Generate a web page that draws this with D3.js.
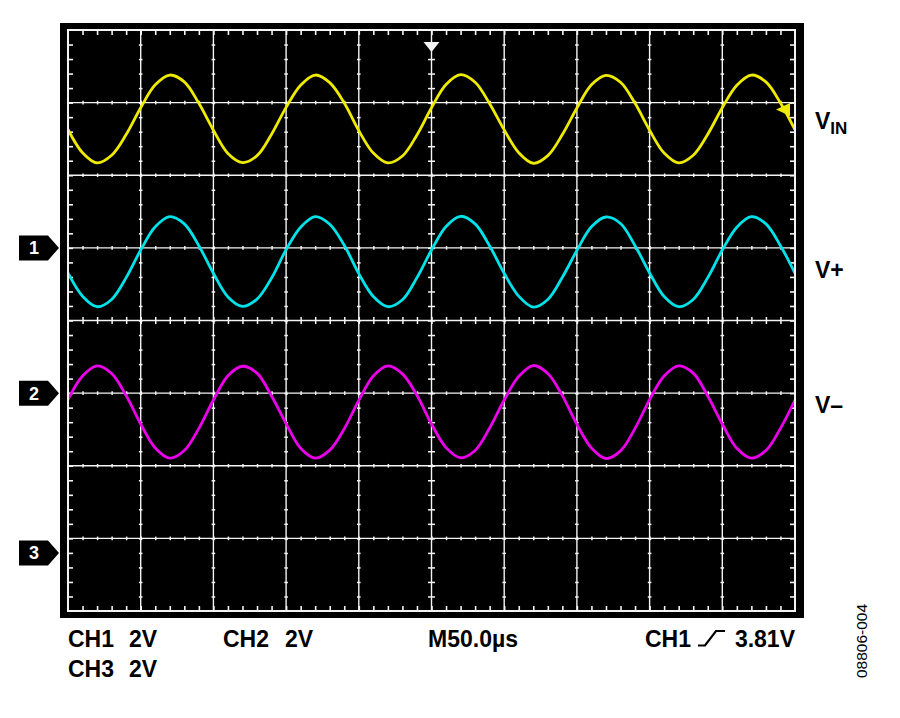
<!DOCTYPE html>
<html>
<head>
<meta charset="utf-8">
<script src="https://cdn.jsdelivr.net/npm/d3@7"></script>
<style>
  body { margin: 0; background: #fff; }
  text { font-family: "Liberation Sans", Arial, sans-serif; }
</style>
</head>
<body>
<div id="scope"></div>
<script>
// sample times, µs (M50.0µs per division, 10 divisions)
const timeUs = [0, 10, 20, 30, 40, 50, 60, 70, 80, 90,
                100, 110, 120, 130, 140, 150, 160, 170, 180, 190,
                200, 210, 220, 230, 240, 250, 260, 270, 280, 290,
                300, 310, 320, 330, 340, 350, 360, 370, 380, 390,
                400, 410, 420, 430, 440, 450, 460, 470, 480, 490, 500];

// CH1 - VIN (volts)
const vin = [3.26, 2.62, 2.34, 2.55, 3.12, 3.86, 4.49, 4.76, 4.57, 3.98,
             3.24, 2.60, 2.35, 2.54, 3.13, 3.87, 4.48, 4.76, 4.55, 3.99,
             3.23, 2.61, 2.34, 2.53, 3.11, 3.86, 4.50, 4.77, 4.56, 3.97,
             3.25, 2.62, 2.33, 2.54, 3.12, 3.85, 4.49, 4.75, 4.56, 3.98,
             3.24, 2.61, 2.34, 2.55, 3.13, 3.86, 4.48, 4.76, 4.57, 3.99, 3.25];

// CH2 - V+ (volts)
const vPlus = [3.31, 2.67, 2.38, 2.58, 3.18, 3.94, 4.58, 4.86, 4.66, 4.06,
               3.30, 2.65, 2.39, 2.59, 3.17, 3.95, 4.57, 4.86, 4.65, 4.07,
               3.29, 2.66, 2.38, 2.57, 3.18, 3.94, 4.59, 4.87, 4.66, 4.05,
               3.30, 2.67, 2.37, 2.58, 3.19, 3.93, 4.58, 4.85, 4.67, 4.06,
               3.31, 2.66, 2.38, 2.58, 3.18, 3.94, 4.57, 4.86, 4.66, 4.06, 3.30];

// CH3 - V- (volts)
const vMinus = [4.22, 4.87, 5.15, 4.94, 4.33, 3.55, 2.89, 2.61, 2.82, 3.43,
                4.21, 4.88, 5.14, 4.95, 4.32, 3.56, 2.88, 2.61, 2.83, 3.42,
                4.20, 4.87, 5.15, 4.93, 4.34, 3.55, 2.90, 2.62, 2.82, 3.44,
                4.21, 4.86, 5.16, 4.94, 4.33, 3.54, 2.89, 2.60, 2.81, 3.43,
                4.22, 4.87, 5.15, 4.95, 4.32, 3.55, 2.88, 2.61, 2.82, 3.43, 4.21];

const channelNames = ["1", "2", "3"];
const channelOffsetDiv = [1.0, -1.0, -3.2];   // ground marker position, divisions from centre
const voltsPerDiv = 2;
const triggerLevel = 3.81;
const traceNames = ["VIN", "V+", "V\u2013"];
const traceColors = ["#eeea00", "#00e2ea", "#ec00ec"];

const footerRow1 = ["CH1", "2V", "CH2", "2V", "M50.0\u00b5s"];
const footerRow2 = ["CH3", "2V"];
const triggerText = ["CH1", "3.81V"];
const figureId = "08806-004";

// ---- layout
const W = 900, H = 718;
const plot = { left: 68, right: 795, top: 30, bottom: 611 };

const svg = d3.select("#scope")
  .append("svg")
  .attr("width", W)
  .attr("height", H)
  .style("display", "block");

svg.append("rect").attr("width", W).attr("height", H).attr("fill", "#fff");

const x = d3.scaleLinear().domain([0, 500]).range([plot.left, plot.right]);
const yDiv = d3.scaleLinear().domain([-4, 4]).range([plot.bottom, plot.top]);
const yCh = (ch, v) => yDiv(channelOffsetDiv[ch] + v / voltsPerDiv);

// black bezel
svg.append("rect")
  .attr("x", plot.left - 8).attr("y", plot.top - 7)
  .attr("width", plot.right - plot.left + 17)
  .attr("height", plot.bottom - plot.top + 14)
  .attr("fill", "#000");

const g = svg.append("g");

// graticule lines
const majorT = [50, 100, 150, 200, 250, 300, 350, 400, 450];
const majorDiv = [-3, -2, -1, 0, 1, 2, 3];
const minorT = d3.range(10, 500, 10);
const minorDiv = d3.range(-3.8, 4, 0.2).map(d => +d.toFixed(1));

g.selectAll(".vgrid")
  .data(majorT)
  .enter().append("line")
  .attr("x1", d => x(d)).attr("x2", d => x(d))
  .attr("y1", plot.top).attr("y2", plot.bottom)
  .attr("stroke", "#f4f4f4").attr("stroke-width", 1.4);

g.selectAll(".hgrid")
  .data(majorDiv)
  .enter().append("line")
  .attr("x1", plot.left).attr("x2", plot.right)
  .attr("y1", d => yDiv(d)).attr("y2", d => yDiv(d))
  .attr("stroke", "#f4f4f4").attr("stroke-width", 1.4);

const styleTicks = (sel, w) => {
  sel.select(".domain").remove();
  sel.selectAll(".tick line").attr("stroke", "#f4f4f4").attr("stroke-width", w);
};

// small dots along every gridline
majorT.forEach(t => {
  const size = t === 250 ? 3.5 : 1.8;
  g.append("g").attr("transform", `translate(${x(t)},0)`)
    .call(d3.axisRight(yDiv).tickValues(minorDiv).tickSize(size).tickFormat(""))
    .call(s => styleTicks(s, 1.5));
  g.append("g").attr("transform", `translate(${x(t)},0)`)
    .call(d3.axisLeft(yDiv).tickValues(minorDiv).tickSize(size).tickFormat(""))
    .call(s => styleTicks(s, 1.5));
});
majorDiv.forEach(d => {
  const size = d === 0 ? 3.5 : 1.8;
  g.append("g").attr("transform", `translate(0,${yDiv(d)})`)
    .call(d3.axisBottom(x).tickValues(minorT).tickSize(size).tickFormat(""))
    .call(s => styleTicks(s, 1.5));
  g.append("g").attr("transform", `translate(0,${yDiv(d)})`)
    .call(d3.axisTop(x).tickValues(minorT).tickSize(size).tickFormat(""))
    .call(s => styleTicks(s, 1.5));
});

// border ticks pointing inward
g.append("g").attr("transform", `translate(0,${plot.top})`)
  .call(d3.axisBottom(x).tickValues(minorT).tickSize(5).tickFormat(""))
  .call(s => styleTicks(s, 1.6));
g.append("g").attr("transform", `translate(0,${plot.bottom})`)
  .call(d3.axisTop(x).tickValues(minorT).tickSize(5).tickFormat(""))
  .call(s => styleTicks(s, 1.6));
g.append("g").attr("transform", `translate(${plot.left},0)`)
  .call(d3.axisRight(yDiv).tickValues(minorDiv).tickSize(5).tickFormat(""))
  .call(s => styleTicks(s, 1.6));
g.append("g").attr("transform", `translate(${plot.right},0)`)
  .call(d3.axisLeft(yDiv).tickValues(minorDiv).tickSize(5).tickFormat(""))
  .call(s => styleTicks(s, 1.6));

// white border
g.append("rect")
  .attr("x", plot.left).attr("y", plot.top)
  .attr("width", plot.right - plot.left)
  .attr("height", plot.bottom - plot.top)
  .attr("fill", "none")
  .attr("stroke", "#f4f4f4")
  .attr("stroke-width", 2);

// traces
svg.append("clipPath").attr("id", "clip")
  .append("rect")
  .attr("x", plot.left + 1).attr("y", plot.top + 1)
  .attr("width", plot.right - plot.left - 2)
  .attr("height", plot.bottom - plot.top - 2);

const traces = [vin, vPlus, vMinus];
traces.forEach((series, ch) => {
  const line = d3.line()
    .x((d, i) => x(timeUs[i]))
    .y(d => yCh(ch, d))
    .curve(d3.curveCatmullRom);
  svg.append("path")
    .datum(series)
    .attr("clip-path", "url(#clip)")
    .attr("d", line)
    .attr("fill", "none")
    .attr("stroke", traceColors[ch])
    .attr("stroke-width", 2.8)
    .attr("stroke-linejoin", "round");
});

// trigger position marker (top)
const tx = x(250);
svg.append("path")
  .attr("d", `M${tx - 8},${plot.top + 12} L${tx + 8},${plot.top + 12} L${tx},${plot.top + 22} Z`)
  .attr("fill", "#f4f4f4");

// trigger level marker (right, CH1)
const ty = yCh(0, triggerLevel);
svg.append("path")
  .attr("d", `M${plot.right - 19},${ty} L${plot.right - 5},${ty - 6.5} L${plot.right - 5},${ty + 6.5} Z`)
  .attr("fill", traceColors[0]);

// channel ground markers
channelNames.forEach((name, ch) => {
  const cy = yDiv(channelOffsetDiv[ch]);
  svg.append("path")
    .attr("d", `M19,${cy - 12.5} L48,${cy - 12.5} L59,${cy} L48,${cy + 12.5} L19,${cy + 12.5} Z`)
    .attr("fill", "#000");
  svg.append("text")
    .attr("x", 34).attr("y", cy + 6.5)
    .attr("text-anchor", "middle")
    .attr("fill", "#fff")
    .style("font-size", "18px")
    .style("font-weight", "bold")
    .text(name);
});

// trace labels
const vinLabel = svg.append("text")
  .attr("x", 815).attr("y", 129)
  .style("font-size", "23px")
  .style("font-weight", "bold");
vinLabel.append("tspan").text(traceNames[0].slice(0, 1));
vinLabel.append("tspan").attr("dy", 5).style("font-size", "17px").text(traceNames[0].slice(1));

svg.append("text")
  .attr("x", 815).attr("y", 278)
  .style("font-size", "23px")
  .style("font-weight", "bold")
  .text(traceNames[1]);

svg.append("text")
  .attr("x", 815).attr("y", 413)
  .style("font-size", "23px")
  .style("font-weight", "bold")
  .text(traceNames[2]);

// footer
const footerX1 = [68, 129, 223, 285, 428];
const footerX2 = [68, 129];
footerRow1.forEach((t, i) => {
  svg.append("text")
    .attr("x", footerX1[i]).attr("y", 647)
    .style("font-size", "23px").style("font-weight", "bold")
    .text(t);
});
footerRow2.forEach((t, i) => {
  svg.append("text")
    .attr("x", footerX2[i]).attr("y", 677)
    .style("font-size", "23px").style("font-weight", "bold")
    .text(t);
});

svg.append("text")
  .attr("x", 645).attr("y", 647)
  .style("font-size", "23px").style("font-weight", "bold")
  .text(triggerText[0]);
svg.append("path")
  .attr("d", "M698,645.5 L705,645.5 L716,631 L725,631")
  .attr("fill", "none")
  .attr("stroke", "#000")
  .attr("stroke-width", 2.2);
svg.append("text")
  .attr("x", 795).attr("y", 647)
  .attr("text-anchor", "end")
  .style("font-size", "23px").style("font-weight", "bold")
  .text(triggerText[1]);

svg.append("text")
  .attr("transform", "translate(867,641) rotate(-90)")
  .attr("text-anchor", "middle")
  .style("font-size", "15.5px")
  .text(figureId);
</script>
</body>
</html>
